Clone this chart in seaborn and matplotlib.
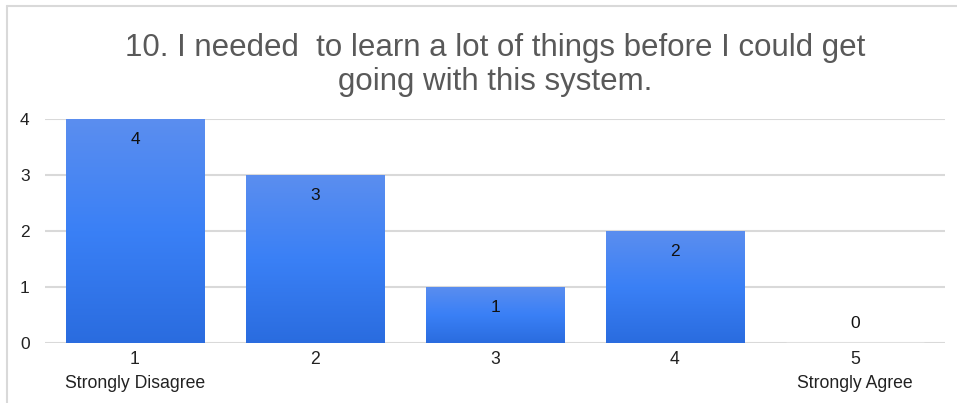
import numpy as np
import pandas as pd
import seaborn as sns
import matplotlib.pyplot as plt
from matplotlib.colors import LinearSegmentedColormap
from matplotlib.lines import Line2D

# Chart data
title = "10. I needed  to learn a lot of things before I could get\ngoing with this system."
ratings = ["1", "2", "3", "4", "5"]
counts = [4, 3, 1, 2, 0]
tick_labels = ["1\nStrongly Disagree", "2", "3", "4", "5\nStrongly Agree"]
yticks = [0, 1, 2, 3, 4]

sns.set_style("white")
plt.rcParams['font.family'] = ['Liberation Sans', 'DejaVu Sans']

fig = plt.figure(figsize=(9.57, 4.03), dpi=100)
ax = fig.add_axes([45 / 957, 60 / 403, 900 / 957, 224 / 403])

df = pd.DataFrame({"rating": ratings, "count": counts})
sns.barplot(data=df, x="rating", y="count", color="#3b82f6", width=0.77,
            saturation=1, ax=ax)

# vertical gradient on each bar (light top, darker bottom)
grad = LinearSegmentedColormap.from_list("bar", ["#2a6cdf", "#3a80f6", "#5b8eef"])
for p in ax.patches:
    h = p.get_height()
    if h <= 0:
        continue
    x0, w = p.get_x(), p.get_width()
    im = ax.imshow(np.linspace(0, 1, 256).reshape(-1, 1), cmap=grad, origin="lower",
                   aspect="auto", extent=[x0, x0 + w, 0, h], zorder=2)
    im.set_clip_path(p)
    p.set_facecolor("none")
    p.set_edgecolor("none")

ax.set_xlim(-0.5, 4.5)
ax.set_ylim(0, 4)
ax.set_yticks(yticks)
ax.set_xticks(range(len(ratings)))
ax.set_xticklabels(tick_labels, fontsize=12.7, color="#222222", linespacing=1.55)
ax.tick_params(axis="y", labelsize=12.5, labelcolor="#222222", pad=11, length=0)
ax.tick_params(axis="x", pad=6, length=0)
ax.set_xlabel("")
ax.set_ylabel("")
ax.yaxis.grid(True, color="#d9d9d9", lw=1.5)
ax.set_axisbelow(True)
sns.despine(ax=ax, left=True, bottom=True)

# value labels
for i, v in enumerate(counts):
    ax.annotate(str(v), (i, v), xytext=(0, -15 if v > 0 else 14),
                textcoords="offset points", ha="center", va="center",
                fontsize=12.5, color="#111111", zorder=3)

fig.text(495 / 957, 1 - 65 / 403, title, ha="center", va="center",
         fontsize=22.5, color="#595959", linespacing=1.15)

# outer frame (top and left edges)
fig.add_artist(Line2D([6.5 / 957, 6.5 / 957], [0, 1 - 5.5 / 403],
                      transform=fig.transFigure, color="#d9d9d9", lw=1.5))
fig.add_artist(Line2D([6.5 / 957, 1], [1 - 5.5 / 403, 1 - 5.5 / 403],
                      transform=fig.transFigure, color="#d9d9d9", lw=1.5))

plt.savefig("out.png", dpi=100)
plt.close()
